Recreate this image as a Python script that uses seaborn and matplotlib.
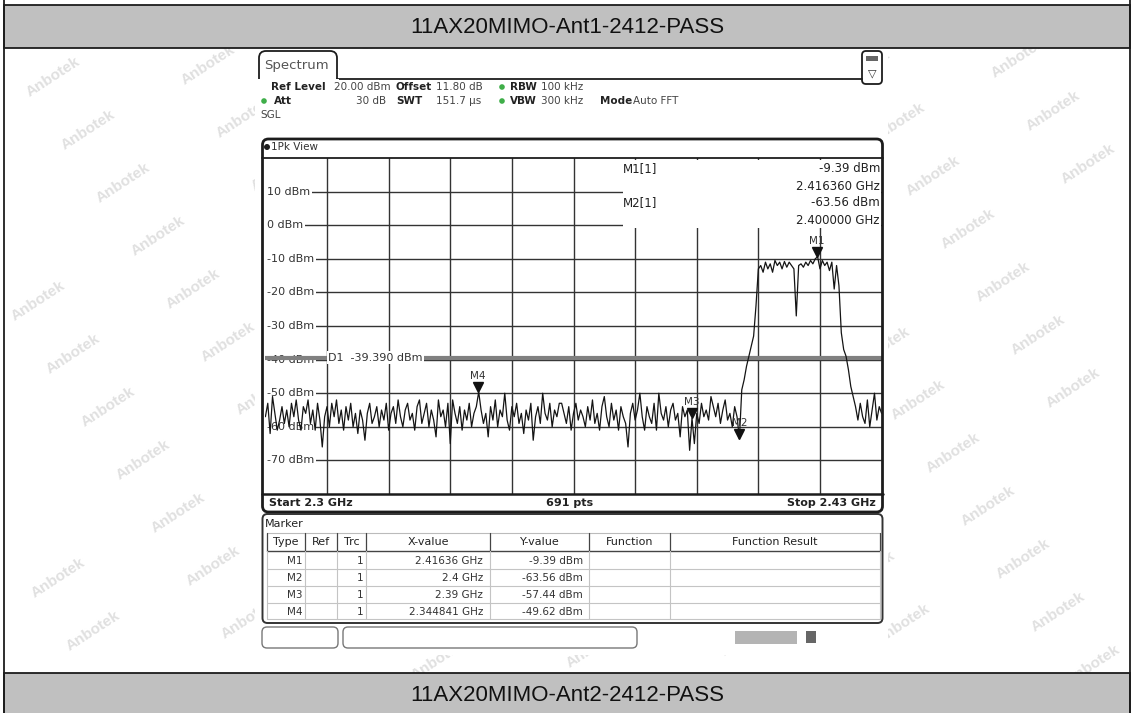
import numpy as np
import matplotlib
matplotlib.use("Agg")
import matplotlib.pyplot as plt
import matplotlib.transforms as mtransforms
from matplotlib.patches import Rectangle, FancyBboxPatch, Circle
import seaborn as sns

# ── Data ──────────────────────────────────────────────────────────────────────
TITLE_TOP = "11AX20MIMO-Ant1-2412-PASS"
TITLE_BOTTOM = "11AX20MIMO-Ant2-2412-PASS"

FREQ_START, FREQ_STOP = 2.30, 2.43          # GHz, 0.5 MHz per sample below
Y_MIN, Y_MAX = -80, 20                      # dBm
Y_TICKS = [10, 0, -10, -20, -30, -40, -50, -60, -70]

TRACE_DBM = [
    -57, -53, -62, -51, -56, -61, -58, -54, -59, -55,
    -60, -53, -57, -52, -58, -61, -54, -56, -52, -59,
    -55, -61, -53, -58, -66, -57, -54, -60, -53, -57,
    -52, -59, -55, -61, -54, -58, -53, -60, -56, -62,
    -55, -58, -64, -56, -53, -59, -57, -54, -60, -55,
    -58, -53, -61, -56, -54, -59, -52, -57, -60, -55,
    -53, -58, -56, -61, -54, -52, -59, -56, -53, -60,
    -55, -58, -63, -52, -57, -55, -60, -53, -65, -52,
    -56, -59, -54, -61, -55, -58, -53, -60, -56, -54,
    -49.62, -55, -59, -56, -63, -54, -58, -52, -60, -55,
    -57, -50, -58, -61, -54, -57, -53, -59, -56, -62,
    -55, -58, -53, -64, -57, -54, -59, -50, -56, -58,
    -53, -60, -55, -57, -53, -53, -56, -59, -54, -61,
    -56, -53, -58, -55, -57, -60, -54, -58, -52, -59,
    -56, -61, -54, -51, -57, -60, -53, -58, -55, -61,
    -54, -57, -59, -66, -56, -53, -58, -55, -50, -57,
    -61, -54, -57, -59, -53, -61, -50, -56, -58, -54,
    -60, -55, -53, -58, -56, -63, -54, -57, -55, -67,
    -57.44, -65, -56, -59, -53, -57, -55, -58, -51, -54,
    -57, -53, -59, -55, -52, -58, -56, -60, -54, -57,
    -63.56,
    -49, -46, -42, -39, -36, -33, -24, -13,
    -12, -14, -11, -13, -11.5, -14, -10.5, -12, -11, -13,
    -10.8, -12.5, -11, -12, -13, -27, -12, -11.5, -12.5, -11,
    -12, -10.5, -11.5, -10, -9.39, -13, -10.5, -12, -11, -13.5,
    -11, -19, -12,
    -18, -32, -37, -39, -43, -48, -51, -54, -58,
    -53, -57, -59, -52, -60, -55, -50, -58, -54, -56,
]

MARKER_NAMES = ["M1", "M2", "M3", "M4"]
MARKER_FREQ = [2.41636, 2.4, 2.39, 2.344841]
MARKER_DBM = [-9.39, -63.56, -57.44, -49.62]
MARKER_XTEXT = ["2.41636 GHz", "2.4 GHz", "2.39 GHz", "2.344841 GHz"]
D1_LEVEL = -39.390

# ── Layout (pixels of the 1134x713 screenshot) ───────────────────────────────
W, H = 1134, 713
PLOT_L, PLOT_R, PLOT_T, PLOT_B = 265.4, 881.6, 158, 494
UI_FONT = ["DejaVu Sans"]
INK = "#1c1c1c"
GREEN = "#3fae49"

sns.set_theme(style="white")
plt.rcParams["font.family"] = UI_FONT

fig = plt.figure(figsize=(W / 100, H / 100), dpi=100)

# background layer: page, watermarks, header bands
bg = fig.add_axes([0, 0, 1, 1])
bg.set_xlim(0, W); bg.set_ylim(H, 0); bg.axis("off")

for i in range(-20, 30):
    for j in range(-10, 15):
        wx, wy = 53 + i * 35 + j * 155, 77 + i * 53 - j * 12
        if 35 < wx < W - 35 and 50 < wy < 670:
            bg.text(wx, wy, "Anbotek", rotation=33, ha="center", va="center",
                    fontsize=11, fontweight="bold", color="#e0e0e0",
                    family=["Liberation Sans", "DejaVu Sans"], zorder=1)

bg.add_patch(Rectangle((255, 49), 633, 606, fc="white", ec="none", zorder=2))
for y0, y1, txt in [(5, 48, TITLE_TOP), (673, 716, TITLE_BOTTOM)]:
    bg.add_patch(Rectangle((4, y0), 1126, y1 - y0, fc="#c0c0c0", ec=INK, lw=1.3, zorder=3))
    bg.text(567, (y0 + y1) / 2 + 1, txt, ha="center", va="center", fontsize=16,
            color="#111", family=["Liberation Sans", "DejaVu Sans"], zorder=4)
bg.plot([4, 4], [0, H], color=INK, lw=1.3, zorder=3)
bg.plot([1130, 1130], [0, H], color=INK, lw=1.3, zorder=3)

# ── Spectrum trace ────────────────────────────────────────────────────────────
ax = fig.add_axes([PLOT_L / W, 1 - PLOT_B / H, (PLOT_R - PLOT_L) / W, (PLOT_B - PLOT_T) / H])
freq = np.linspace(FREQ_START, FREQ_STOP, len(TRACE_DBM))
sns.lineplot(x=freq, y=TRACE_DBM, ax=ax, color="#141414", lw=0.9, zorder=4, errorbar=None)
ax.set_xlim(FREQ_START, FREQ_STOP)
ax.set_ylim(Y_MIN, Y_MAX)
ax.set_xticks(np.linspace(FREQ_START, FREQ_STOP, 11)[1:-1])
ax.set_yticks(Y_TICKS)
ax.set_axisbelow(True)
ax.grid(True, color="#333333", lw=1.0)
ax.tick_params(length=0, labelbottom=False, labelleft=False)
ax.set_xlabel(""); ax.set_ylabel("")
for s in ax.spines.values():
    s.set_visible(False)

ylab = mtransforms.blended_transform_factory(ax.transAxes, ax.transData)
x_lab = (267 - PLOT_L) / (PLOT_R - PLOT_L)
for v in Y_TICKS:
    ax.text(x_lab, v, f"{v} dBm", transform=ylab, ha="left", va="center", fontsize=8,
            color="#333", zorder=2, bbox=dict(fc="white", ec="none", pad=1.4))

ax.axhline(D1_LEVEL, color="#808080", lw=3, zorder=3)
ax.text((328 - PLOT_L) / (PLOT_R - PLOT_L), D1_LEVEL, "D1  -39.390 dBm", transform=ylab,
        ha="left", va="center", fontsize=8, color="#333", zorder=3.5,
        bbox=dict(fc="white", ec="none", pad=0.8))

tri_tr = mtransforms.offset_copy(ax.transData, fig=fig, x=0, y=5, units="dots")
lbl_tr = mtransforms.offset_copy(ax.transData, fig=fig, x=0, y=16, units="dots")
ax.plot(MARKER_FREQ, MARKER_DBM, ls="none", marker="v", ms=6.5, color="#111",
        transform=tri_tr, zorder=6)
for name, f, v in zip(MARKER_NAMES, MARKER_FREQ, MARKER_DBM):
    ax.text(f, v, name, transform=lbl_tr, ha="center", va="center", fontsize=7.5,
            color="#333", zorder=6)

# ── Instrument frame, header, marker table ───────────────────────────────────
fg = fig.add_axes([0, 0, 1, 1], zorder=5)
fg.set_xlim(0, W); fg.set_ylim(H, 0); fg.axis("off")

# tab + icon
fg.add_patch(FancyBboxPatch((259, 51), 78, 40, boxstyle="round,pad=0,rounding_size=7",
                            fc="white", ec=INK, lw=1.3))
fg.add_patch(Rectangle((257, 79), 82, 14, fc="white", ec="none", zorder=3))
fg.plot([337, 862], [78.5, 78.5], color=INK, lw=1.3)
fg.text(264, 66, "Spectrum", fontsize=9.5, color="#555", va="center")
fg.add_patch(FancyBboxPatch((862, 51), 20, 33, boxstyle="round,pad=0,rounding_size=4",
                            fc="white", ec=INK, lw=1.3))
fg.add_patch(Rectangle((866, 56), 12, 5, fc="#666", ec="none"))
fg.text(872, 73, "▽", ha="center", va="center", fontsize=8, color="#333")

# setting readout
hdr = [
    (271, 87, "Ref Level", "bold"), (334, 87, "20.00 dBm", "normal"),
    (396, 87, "Offset", "bold"), (436, 87, "11.80 dB", "normal"),
    (510, 87, "RBW", "bold"), (541, 87, "100 kHz", "normal"),
    (274, 101, "Att", "bold"), (396, 101, "SWT", "bold"),
    (436, 101, "151.7 µs", "normal"), (510, 101, "VBW", "bold"),
    (541, 101, "300 kHz", "normal"), (600, 101, "Mode", "bold"),
    (633, 101, "Auto FFT", "normal"), (260, 115, "SGL", "normal"),
]
for hx, hy, t, wgt in hdr:
    fg.text(hx, hy, t, fontsize=7.5, fontweight=wgt, va="center",
            color="#222" if wgt == "bold" else "#444")
fg.text(386, 101, "30 dB", fontsize=7.5, va="center", ha="right", color="#444")
for cx, cy in [(502, 87), (264, 101), (502, 101)]:
    fg.add_patch(Circle((cx, cy), 2.8, fc=GREEN, ec="none"))

# 1Pk View box
fg.add_patch(FancyBboxPatch((262.5, 139), 620, 373, boxstyle="round,pad=0,rounding_size=6",
                            fill=False, ec=INK, lw=2))
fg.add_patch(Circle((267, 147), 3, fc=INK, ec="none"))
fg.text(271, 147, "1Pk View", fontsize=7.5, va="center", color="#333")
fg.plot([262, 883], [158, 158], color=INK, lw=1.3)
fg.plot([262, 883], [494, 494], color=INK, lw=1.8)

# marker info box in the trace window
fg.add_patch(Rectangle((623, 159.5), 258, 68.5, fc="white", ec="none"))
info = [(169, "M1[1]", "-9.39 dBm"), (187, "", "2.416360 GHz"),
        (203, "M2[1]", "-63.56 dBm"), (221, "", "2.400000 GHz")]
for iy, lft, rgt in info:
    fg.text(623, iy, lft, fontsize=8.5, va="center", color="#222")
    fg.text(880, iy, rgt, fontsize=8.5, va="center", ha="right", color="#222")

fg.text(269, 503.5, "Start 2.3 GHz", fontsize=8, fontweight="bold", va="center", color="#222")
fg.text(570, 503.5, "691 pts", fontsize=8, fontweight="bold", va="center", ha="center", color="#222")
fg.text(876, 503.5, "Stop 2.43 GHz", fontsize=8, fontweight="bold", va="center", ha="right", color="#222")

# marker table
fg.add_patch(FancyBboxPatch((262.5, 514), 620, 109, boxstyle="round,pad=0,rounding_size=5",
                            fill=False, ec="#333", lw=1.4))
fg.text(265, 524, "Marker", fontsize=8, va="center", color="#222")
col_x = [267, 305, 337, 366, 490, 589, 670, 880]
heads = ["Type", "Ref", "Trc", "X-value", "Y-value", "Function", "Function Result"]
for k, hname in enumerate(heads):
    fg.text((col_x[k] + col_x[k + 1]) / 2, 542, hname, fontsize=8, ha="center",
            va="center", color="#222")
fg.plot([267, 880], [533, 533], color="#bbb", lw=0.8)
fg.plot([267, 880], [551, 551], color="#444", lw=1.0)
for ly in [569, 586, 603, 619]:
    fg.plot([267, 880], [ly, ly], color="#c4c4c4", lw=0.8)
for cx in col_x:
    fg.plot([cx, cx], [533, 551], color="#444", lw=0.9)
    fg.plot([cx, cx], [551, 619], color="#c4c4c4", lw=0.8)
for r, (name, xt, v) in enumerate(zip(MARKER_NAMES, MARKER_XTEXT, MARKER_DBM)):
    ry = 561 + r * 17
    fg.text(303, ry, name, fontsize=7.5, ha="right", va="center", color="#333")
    fg.text(363, ry, "1", fontsize=7.5, ha="right", va="center", color="#333")
    fg.text(483, ry, xt, fontsize=7.5, ha="right", va="center", color="#333")
    fg.text(583, ry, f"{v:.2f} dBm", fontsize=7.5, ha="right", va="center", color="#333")

# status bar
fg.add_patch(FancyBboxPatch((262, 627), 76, 21, boxstyle="round,pad=0,rounding_size=5",
                            fill=False, ec="#777", lw=1.0))
fg.add_patch(FancyBboxPatch((343, 627), 294, 21, boxstyle="round,pad=0,rounding_size=5",
                            fill=False, ec="#777", lw=1.0))
fg.add_patch(Rectangle((735, 631), 62, 13, fc="#b4b4b4", ec="none"))
fg.add_patch(Rectangle((806, 631), 10, 12, fc="#666", ec="none"))

fig.savefig("out.png", dpi=100)
